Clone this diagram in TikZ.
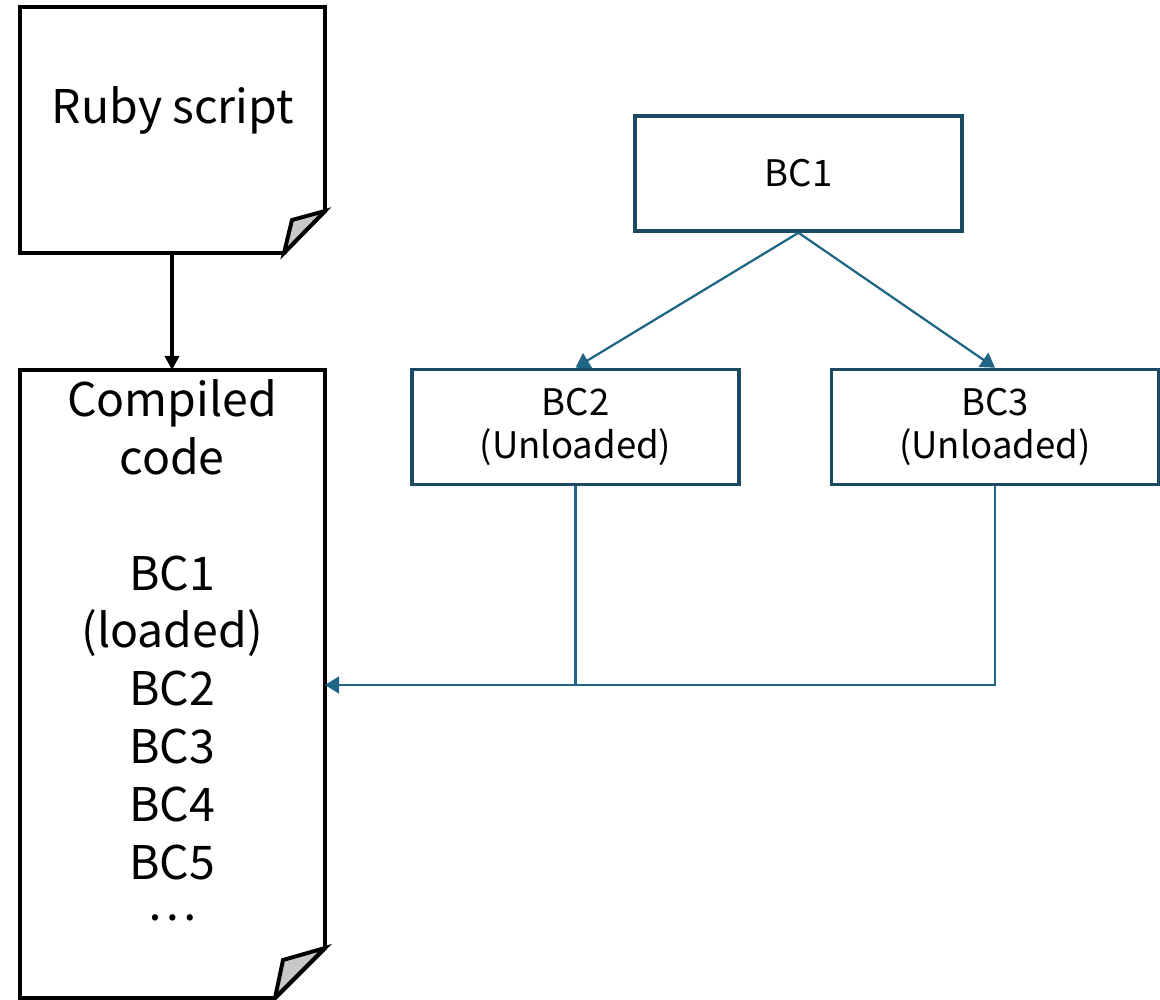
\documentclass[tikz,border=0pt]{standalone}
\usepackage{fontspec}
\setmainfont{Noto Sans CJK JP}
\usetikzlibrary{arrows.meta}
\definecolor{boxedge}{HTML}{1C4A62}
\definecolor{linkblue}{HTML}{1F6586}
\definecolor{foldgray}{HTML}{C8C8C8}
\tikzset{
  docedge/.style={draw=black, line width=2.8pt, line join=miter},
  foldpart/.style={draw=black, fill=foldgray, line width=2.8pt, line join=miter},
  bcbox/.style={draw=boxedge, line width=2.5pt, fill=white, minimum width=327*0.025cm,
    minimum height=115*0.025cm, inner sep=0pt, align=center,
    font=\fontsize{26}{31}\selectfont},
  bigtext/.style={align=center, inner sep=0pt, font=\fontsize{33}{41.2}\selectfont},
  blackarrow/.style={draw=black, line width=2.3pt, -{Triangle[width=10pt,length=10pt]}},
  bluearrow/.style={draw=linkblue, line width=1.6pt, -{Triangle[width=12pt,length=10pt]}},
  blueline/.style={draw=linkblue, line width=1.6pt}
}
\begin{document}
\begin{tikzpicture}[x=0.025cm, y=-0.025cm]
\useasboundingbox (0,0) rectangle (1160,1000);

% Ruby source file with folded corner
\draw[docedge] (20,7) -- (325,7) -- (325,211) -- (284,253) -- (20,253) -- cycle;
\draw[foldpart] (325,211) -- (292,220) -- (284,253) -- cycle;
\node[bigtext] (ruby) at (173,110) {Ruby script};
\coordinate (ruby-out) at (172,253);

% Compiled code listing with folded corner
\draw[docedge] (20,370) -- (325,370) -- (325,948) -- (275,998) -- (20,998) -- cycle;
\draw[foldpart] (325,948) -- (283,960) -- (275,998) -- cycle;
\coordinate (comp-in) at (172,370);
\coordinate (comp-side) at (325,685);
\node[bigtext, anchor=north] (listing) at (172,379)
  {Compiled\\code\\[41.2pt]BC1\\(loaded)\\BC2\\BC3\\BC4\\BC5\\\raisebox{12pt}[0pt][0pt]{…}};

\draw[blackarrow] (ruby-out) -- (comp-in);

% Bytecode tree
\node[bcbox] (bc1) at (798.5,173.5) {BC1};
\node[bcbox] (bc2) at (575.5,427) {BC2\\(Unloaded)};
\node[bcbox] (bc3) at (995,427) {BC3\\(Unloaded)};

\draw[bluearrow] (bc1.south) -- (bc2.north);
\draw[bluearrow] (bc1.south) -- (bc3.north);

\coordinate (merge) at (bc2.south |- comp-side);
\draw[blueline] (bc2.south) -- (merge);
\draw[bluearrow] (bc3.south) |- (comp-side);
\end{tikzpicture}
\end{document}
